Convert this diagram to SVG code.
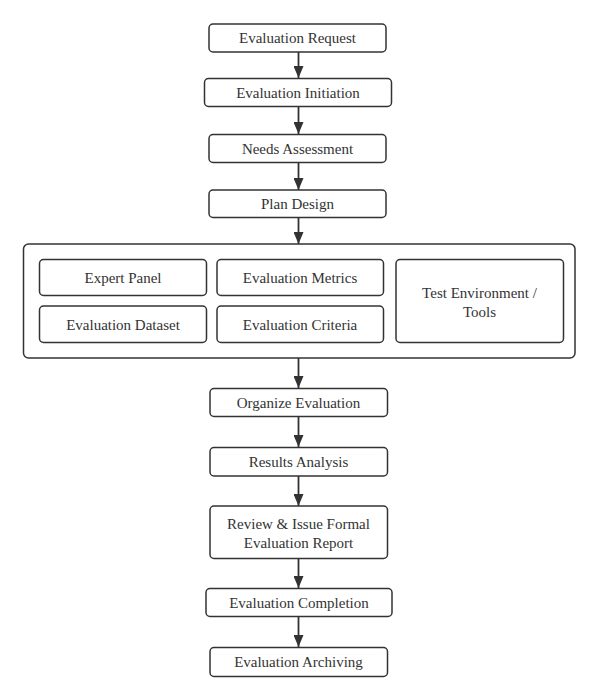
<svg xmlns="http://www.w3.org/2000/svg" width="598" height="700" viewBox="0 0 598 700">
<defs>
<style>
.box{fill:#fff;stroke:#333;stroke-width:1.5}
.t{font-family:"Liberation Serif","Times New Roman",serif;font-size:15px;fill:#333;text-anchor:middle}
.edge{stroke:#333;stroke-width:1.8;fill:none}
</style>
<marker id="ah" viewBox="0 0 12 10" refX="12" refY="5" markerWidth="12" markerHeight="10" markerUnits="userSpaceOnUse" orient="auto">
<path d="M0,0 L12,5 L0,10 z" fill="#333"/>
</marker>
</defs>
<rect width="598" height="700" fill="#fff"/>
<g id="connectors">
<line class="edge" x1="298.5" y1="52" x2="298.5" y2="78" marker-end="url(#ah)"/>
<line class="edge" x1="298.5" y1="107" x2="298.5" y2="134" marker-end="url(#ah)"/>
<line class="edge" x1="298.5" y1="162.5" x2="298.5" y2="190" marker-end="url(#ah)"/>
<line class="edge" x1="298.5" y1="217.5" x2="298.5" y2="244" marker-end="url(#ah)"/>
<line class="edge" x1="298.5" y1="358" x2="298.5" y2="388" marker-end="url(#ah)"/>
<line class="edge" x1="298.5" y1="417" x2="298.5" y2="447" marker-end="url(#ah)"/>
<line class="edge" x1="298.5" y1="476" x2="298.5" y2="506" marker-end="url(#ah)"/>
<line class="edge" x1="298.5" y1="558.5" x2="298.5" y2="588" marker-end="url(#ah)"/>
<line class="edge" x1="298.5" y1="617" x2="298.5" y2="647" marker-end="url(#ah)"/>
</g>
<g id="n-request"><rect class="box" x="209" y="24" width="177" height="28" rx="4"/><text class="t" x="297.5" y="43">Evaluation Request</text></g>
<g id="n-initiation"><rect class="box" x="204.5" y="78.5" width="187" height="28" rx="4"/><text class="t" x="298" y="97.5">Evaluation Initiation</text></g>
<g id="n-needs"><rect class="box" x="209" y="134.5" width="177" height="28" rx="4"/><text class="t" x="297.5" y="153.5">Needs Assessment</text></g>
<g id="n-plan"><rect class="box" x="209" y="190" width="177" height="27.5" rx="4"/><text class="t" x="297.5" y="209">Plan Design</text></g>
<g id="n-group"><rect class="box" x="23.5" y="244" width="551.5" height="114" rx="5"/></g>
<g id="n-expert"><rect class="box" x="39.5" y="259.5" width="167" height="36" rx="4"/><text class="t" x="123" y="282.5">Expert Panel</text></g>
<g id="n-metrics"><rect class="box" x="217" y="259.5" width="166.5" height="36" rx="4"/><text class="t" x="300" y="282.5">Evaluation Metrics</text></g>
<g id="n-dataset"><rect class="box" x="39.5" y="306" width="167" height="36.5" rx="4"/><text class="t" x="123" y="329.5">Evaluation Dataset</text></g>
<g id="n-criteria"><rect class="box" x="217" y="306" width="166.5" height="36.5" rx="4"/><text class="t" x="300" y="329.5">Evaluation Criteria</text></g>
<g id="n-env"><rect class="box" x="396" y="259.5" width="167.5" height="83" rx="4"/><text class="t" x="479.5" y="298">Test Environment /</text><text class="t" x="479.5" y="317">Tools</text></g>
<g id="n-organize"><rect class="box" x="210" y="388.5" width="177.5" height="28" rx="4"/><text class="t" x="298.5" y="407.5">Organize Evaluation</text></g>
<g id="n-results"><rect class="box" x="210" y="447.5" width="177.5" height="28.5" rx="4"/><text class="t" x="298.5" y="466.5">Results Analysis</text></g>
<g id="n-review"><rect class="box" x="210" y="506" width="177.5" height="52.5" rx="4"/><text class="t" x="298.5" y="529">Review &amp; Issue Formal</text><text class="t" x="298.5" y="548">Evaluation Report</text></g>
<g id="n-completion"><rect class="box" x="206" y="588.5" width="186" height="28" rx="4"/><text class="t" x="299" y="607.5">Evaluation Completion</text></g>
<g id="n-archiving"><rect class="box" x="210" y="647.5" width="177.5" height="29" rx="4"/><text class="t" x="298.5" y="667">Evaluation Archiving</text></g>
</svg>
